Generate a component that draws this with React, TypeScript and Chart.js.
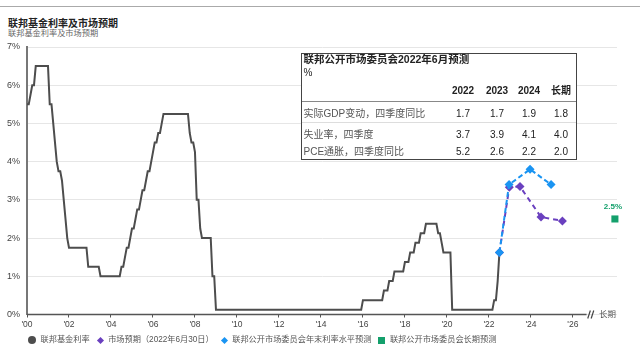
import React, { useEffect, useRef } from 'react';
import { Chart, registerables } from 'chart.js';

Chart.register(...registerables);

const FONT = '"Liberation Sans", "Noto Sans CJK SC", sans-serif';

// Federal funds rate (monthly, value at start of each month, %), Jan 2000 – Jul 2022
const fedStartYear = 2000;
const fedRates = [
  // 2000
  5.5, 5.5, 5.75, 6.0, 6.0, 6.5, 6.5, 6.5, 6.5, 6.5, 6.5, 6.5,
  // 2001
  6.5, 5.5, 5.5, 5.0, 4.5, 4.0, 3.75, 3.75, 3.5, 3.0, 2.5, 2.0,
  // 2002
  1.75, 1.75, 1.75, 1.75, 1.75, 1.75, 1.75, 1.75, 1.75, 1.75, 1.75, 1.25,
  // 2003
  1.25, 1.25, 1.25, 1.25, 1.25, 1.25, 1.0, 1.0, 1.0, 1.0, 1.0, 1.0,
  // 2004
  1.0, 1.0, 1.0, 1.0, 1.0, 1.0, 1.25, 1.25, 1.5, 1.75, 1.75, 2.0,
  // 2005
  2.25, 2.25, 2.5, 2.75, 2.75, 3.0, 3.25, 3.25, 3.5, 3.75, 3.75, 4.0,
  // 2006
  4.25, 4.5, 4.5, 4.75, 4.75, 5.0, 5.25, 5.25, 5.25, 5.25, 5.25, 5.25,
  // 2007
  5.25, 5.25, 5.25, 5.25, 5.25, 5.25, 5.25, 5.25, 5.25, 4.75, 4.5, 4.5,
  // 2008
  4.25, 3.0, 3.0, 2.25, 2.0, 2.0, 2.0, 2.0, 2.0, 2.0, 1.0, 1.0,
  // 2009
  0.125, 0.125, 0.125, 0.125, 0.125, 0.125, 0.125, 0.125, 0.125, 0.125, 0.125, 0.125,
  // 2010
  0.125, 0.125, 0.125, 0.125, 0.125, 0.125, 0.125, 0.125, 0.125, 0.125, 0.125, 0.125,
  // 2011
  0.125, 0.125, 0.125, 0.125, 0.125, 0.125, 0.125, 0.125, 0.125, 0.125, 0.125, 0.125,
  // 2012
  0.125, 0.125, 0.125, 0.125, 0.125, 0.125, 0.125, 0.125, 0.125, 0.125, 0.125, 0.125,
  // 2013
  0.125, 0.125, 0.125, 0.125, 0.125, 0.125, 0.125, 0.125, 0.125, 0.125, 0.125, 0.125,
  // 2014
  0.125, 0.125, 0.125, 0.125, 0.125, 0.125, 0.125, 0.125, 0.125, 0.125, 0.125, 0.125,
  // 2015
  0.125, 0.125, 0.125, 0.125, 0.125, 0.125, 0.125, 0.125, 0.125, 0.125, 0.125, 0.125,
  // 2016
  0.375, 0.375, 0.375, 0.375, 0.375, 0.375, 0.375, 0.375, 0.375, 0.375, 0.375, 0.375,
  // 2017
  0.625, 0.625, 0.625, 0.875, 0.875, 0.875, 1.125, 1.125, 1.125, 1.125, 1.125, 1.125,
  // 2018
  1.375, 1.375, 1.375, 1.625, 1.625, 1.625, 1.875, 1.875, 1.875, 2.125, 2.125, 2.125,
  // 2019
  2.375, 2.375, 2.375, 2.375, 2.375, 2.375, 2.375, 2.125, 2.125, 1.875, 1.625, 1.625,
  // 2020
  1.625, 1.625, 1.625, 0.125, 0.125, 0.125, 0.125, 0.125, 0.125, 0.125, 0.125, 0.125,
  // 2021
  0.125, 0.125, 0.125, 0.125, 0.125, 0.125, 0.125, 0.125, 0.125, 0.125, 0.125, 0.125,
  // 2022
  0.125, 0.125, 0.125, 0.375, 0.375, 0.875, 1.625,
];

// FOMC year-end projections (June 2022)
const fomcDates = [2022.5, 2022.96, 2023.96, 2024.96];
const fomcRates = [1.625, 3.4, 3.8, 3.4];

// Market expectations (June 30, 2022)
const marketDates = [2022.5, 2022.97, 2023.48, 2024.48, 2025.5];
const marketRates = [1.625, 3.33, 3.35, 2.55, 2.45];

// FOMC long-run projection
const longRunDates = [2028];
const longRunRates = [2.5];

const xTickYears = [2000, 2002, 2004, 2006, 2008, 2010, 2012, 2014, 2016, 2018, 2020, 2022, 2024, 2026];
const yTickValues = [0, 1, 2, 3, 4, 5, 6, 7];
const axisBreakYear = 2026.65;

// Table
const tableTitle = '联邦公开市场委员会2022年6月预测';
const tableUnit = '%';
const tableCols = ['2022', '2023', '2024', '长期'];
const tableRowLabels = ['实际GDP变动，四季度同比', '失业率，四季度', 'PCE通胀，四季度同比'];
const gdpValues = [1.7, 1.7, 1.9, 1.8];
const unemploymentValues = [3.7, 3.9, 4.1, 4.0];
const pceValues = [5.2, 2.6, 2.2, 2.0];

const legendLabels = ['联邦基金利率', '市场预期（2022年6月30日）', '联邦公开市场委员会年末利率水平预测', '联邦公开市场委员会长期预测'];

const GRAY = '#4d4d4d';
const PURPLE = '#6a40bf';
const BLUE = '#1a94f2';
const GREEN = '#14a06c';

const annotationPlugin = {
  id: 'annotations',
  afterDatasetsDraw(chart: any) {
    const { ctx, chartArea, scales } = chart;
    const x = scales.x;
    const y = scales.y;
    ctx.save();
    const y0 = y.getPixelForValue(0);
    const xEnd = x.getPixelForValue(axisBreakYear);
    ctx.strokeStyle = '#555';
    ctx.lineWidth = 1.5;
    ctx.beginPath();
    ctx.moveTo(chartArea.left, y0);
    ctx.lineTo(xEnd, y0);
    ctx.stroke();
    ctx.lineWidth = 1.2;
    ctx.strokeStyle = '#444';
    for (const dx of [1.2, 4.6]) {
      ctx.beginPath();
      ctx.moveTo(xEnd + dx, y0 + 4);
      ctx.lineTo(xEnd + dx + 2.6, y0 - 4);
      ctx.stroke();
    }
    ctx.font = `8.5px ${FONT}`;
    ctx.fillStyle = '#555';
    ctx.textAlign = 'left';
    ctx.textBaseline = 'middle';
    ctx.fillText(tableCols[3], xEnd + 12.5, y0);

    const meta = chart.getDatasetMeta(3);
    const pt = meta.data[0];
    if (pt) {
      ctx.font = `bold 8px ${FONT}`;
      ctx.fillStyle = GREEN;
      ctx.textAlign = 'center';
      ctx.fillText(`${longRunRates[0]}%`, pt.x - 2, pt.y - 12.5);
    }
    ctx.restore();
  },
};

function Marker({ kind, color }: { kind: string; color: string }) {
  if (kind === 'circle') {
    return <span style={{ display: 'inline-block', width: 8, height: 8, borderRadius: '50%', background: color }} />;
  }
  if (kind === 'diamond') {
    return (
      <span style={{ display: 'inline-block', width: 7, height: 7, position: 'relative' }}>
        <span style={{ position: 'absolute', left: 1, top: 1, width: 5, height: 5, background: color, transform: 'rotate(45deg)' }} />
      </span>
    );
  }
  return <span style={{ display: 'inline-block', width: 7, height: 7, background: color }} />;
}

export default function App() {
  const ref = useRef<HTMLCanvasElement>(null);

  useEffect(() => {
    const fedData = fedRates.map((v, i) => ({ x: fedStartYear + i / 12, y: v }));
    const fomcData = fomcDates.map((d, i) => ({ x: d, y: fomcRates[i] }));
    const marketData = marketDates.map((d, i) => ({ x: d, y: marketRates[i] }));
    const longRunData = longRunDates.map((d, i) => ({ x: d, y: longRunRates[i] }));

    const chart = new Chart(ref.current as HTMLCanvasElement, {
      type: 'line',
      data: {
        datasets: [
          {
            label: legendLabels[2],
            data: fomcData,
            borderColor: BLUE,
            backgroundColor: BLUE,
            borderWidth: 2,
            borderDash: [5, 3],
            pointStyle: 'rectRot',
            pointRadius: 4.5,
            pointBackgroundColor: BLUE,
            pointBorderColor: BLUE,
            pointBorderWidth: 0,
            tension: 0,
          },
          {
            label: legendLabels[1],
            data: marketData,
            borderColor: PURPLE,
            backgroundColor: PURPLE,
            borderWidth: 2,
            borderDash: [5, 4],
            pointStyle: 'rectRot',
            pointRadius: 4.5,
            pointBackgroundColor: PURPLE,
            pointBorderColor: PURPLE,
            pointBorderWidth: 0,
            tension: 0,
          },
          {
            label: legendLabels[0],
            data: fedData,
            borderColor: GRAY,
            backgroundColor: GRAY,
            borderWidth: 2,
            pointRadius: 0,
            tension: 0,
          },
          {
            label: legendLabels[3],
            data: longRunData,
            showLine: false,
            pointStyle: 'rect',
            pointRadius: 5,
            pointBackgroundColor: GREEN,
            pointBorderColor: GREEN,
            pointBorderWidth: 0,
            borderColor: GREEN,
            backgroundColor: GREEN,
            clip: false,
          } as any,
        ],
      },
      options: {
        responsive: false,
        animation: false,
        events: [],
        layout: { padding: { top: 47, right: 23, left: 0, bottom: 0 } },
        plugins: { legend: { display: false }, tooltip: { enabled: false } },
        scales: {
          x: {
            type: 'linear',
            min: 2000,
            max: 2028.1,
            afterFit: (s: any) => {
              s.height = 40.5;
            },
            afterBuildTicks: (s: any) => {
              s.ticks = xTickYears.map((v) => ({ value: v }));
            },
            grid: { drawOnChartArea: false, drawTicks: true, tickLength: 3, color: '#555', lineWidth: 1 },
            border: { display: false },
            ticks: {
              autoSkip: false,
              maxRotation: 0,
              padding: 2,
              color: '#444',
              font: { family: FONT, size: 8.5 },
              callback: (v: any) => "'" + String(Number(v) % 100).padStart(2, '0'),
            },
          },
          y: {
            min: 0,
            max: 7,
            afterFit: (s: any) => {
              s.width = 27;
            },
            afterBuildTicks: (s: any) => {
              s.ticks = yTickValues.map((v) => ({ value: v }));
            },
            grid: { color: '#e6e6e6', drawTicks: false, lineWidth: 1 },
            border: { display: true, color: '#777', width: 2 },
            ticks: {
              padding: 7,
              color: '#444',
              font: { family: FONT, size: 9 },
              callback: (v: any) => `${v}%`,
            },
          },
        },
      } as any,
      plugins: [annotationPlugin],
    });
    return () => chart.destroy();
  }, []);

  const colCenters = [161, 195, 227, 259];
  const rows = [gdpValues, unemploymentValues, pceValues];
  const rowTops = [54, 75, 91.5];

  return (
    <div
      style={{
        position: 'absolute',
        left: 0,
        top: 0,
        width: 640,
        height: 355,
        background: '#fff',
        fontFamily: FONT,
        overflow: 'hidden',
      }}
    >
      <div style={{ position: 'absolute', left: 0, top: 6, width: 640, height: 1, background: '#aaa' }} />
      <div style={{ position: 'absolute', left: 8, top: 18, fontSize: 10, fontWeight: 'bold', lineHeight: '12px', color: '#222', whiteSpace: 'nowrap' }}>
        联邦基金利率及市场预期
      </div>
      <div style={{ position: 'absolute', left: 8, top: 28.5, fontSize: 8.2, lineHeight: '10px', color: '#666', whiteSpace: 'nowrap' }}>
        联邦基金利率及市场预期
      </div>
      <canvas ref={ref} width={640} height={355} style={{ position: 'absolute', left: 0, top: 0, width: 640, height: 355 }} />

      <div
        style={{
          position: 'absolute',
          left: 301,
          top: 53,
          width: 276,
          height: 107,
          boxSizing: 'border-box',
          border: '1px solid #444',
          background: '#fff',
          color: '#222',
        }}
      >
        <div style={{ position: 'absolute', left: 1.5, top: 0, fontSize: 10.5, fontWeight: 'bold', lineHeight: '11px', whiteSpace: 'nowrap' }}>
          {tableTitle}
        </div>
        <div style={{ position: 'absolute', left: 1.5, top: 13, fontSize: 10, lineHeight: '12px' }}>{tableUnit}</div>
        {tableCols.map((c, i) => (
          <div
            key={c}
            style={{ position: 'absolute', left: colCenters[i] - 20, width: 40, top: 31, textAlign: 'center', fontSize: 10, fontWeight: 'bold', lineHeight: '12px' }}
          >
            {c}
          </div>
        ))}
        <div style={{ position: 'absolute', left: 0, right: 0, top: 47, height: 1, background: '#888' }} />
        <div style={{ position: 'absolute', left: 0, right: 0, top: 68, height: 1, background: '#ddd' }} />
        {tableRowLabels.map((label, r) => (
          <React.Fragment key={label}>
            <div style={{ position: 'absolute', left: 1.5, top: rowTops[r], fontSize: 10, lineHeight: '12px', color: '#555', whiteSpace: 'nowrap' }}>
              {label}
            </div>
            {rows[r].map((v, i) => (
              <div
                key={i}
                style={{ position: 'absolute', left: colCenters[i] - 20, width: 40, top: rowTops[r], textAlign: 'center', fontSize: 10, lineHeight: '12px', color: '#222' }}
              >
                {v.toFixed(1)}
              </div>
            ))}
          </React.Fragment>
        ))}
      </div>

      <div
        style={{
          position: 'absolute',
          left: 28,
          top: 334,
          height: 12,
          display: 'flex',
          alignItems: 'center',
          fontSize: 8.2,
          lineHeight: '12px',
          color: '#555',
          whiteSpace: 'nowrap',
        }}
      >
        {[
          { kind: 'circle', color: GRAY },
          { kind: 'diamond', color: PURPLE },
          { kind: 'diamond', color: BLUE },
          { kind: 'square', color: GREEN },
        ].map((m, i) => (
          <span key={i} style={{ display: 'flex', alignItems: 'center', marginRight: 7 }}>
            <Marker kind={m.kind} color={m.color} />
            <span style={{ marginLeft: 4.5 }}>{legendLabels[i]}</span>
          </span>
        ))}
      </div>
    </div>
  );
}
